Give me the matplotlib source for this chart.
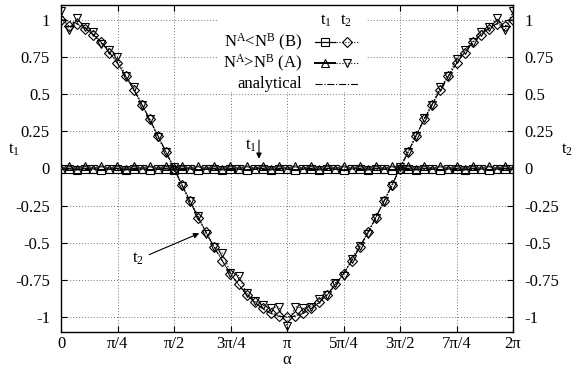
import matplotlib
matplotlib.use("Agg")
import matplotlib.pyplot as plt
from matplotlib.lines import Line2D
from matplotlib.patches import Rectangle
import numpy as np

plt.rcParams['font.family'] = ['Liberation Serif', 'DejaVu Serif']
plt.rcParams['mathtext.fontset'] = 'custom'
plt.rcParams['mathtext.rm'] = 'Liberation Serif'
plt.rcParams['mathtext.it'] = 'Liberation Serif:italic'

# ---- data ----
alpha = [0.000, 0.112, 0.224, 0.337, 0.449, 0.561, 0.673, 0.785, 0.898, 1.010,
         1.122, 1.234, 1.346, 1.459, 1.571, 1.683, 1.795, 1.907, 2.020, 2.132,
         2.244, 2.356, 2.468, 2.581, 2.693, 2.805, 2.917, 3.029, 3.142, 3.254,
         3.366, 3.478, 3.590, 3.703, 3.815, 3.927, 4.039, 4.151, 4.264, 4.376,
         4.488, 4.600, 4.712, 4.825, 4.937, 5.049, 5.161, 5.273, 5.386, 5.498,
         5.610, 5.722, 5.834, 5.947, 6.059, 6.171, 6.283]

t2_B = [1.00, 0.96, 0.97, 0.94, 0.90, 0.85, 0.78, 0.71, 0.62, 0.53,
        0.43, 0.33, 0.22, 0.11, 0.00, -0.11, -0.22, -0.33, -0.43, -0.53,
        -0.62, -0.71, -0.78, -0.85, -0.90, -0.94, -0.97, -0.99, -1.00, -0.99,
        -0.97, -0.94, -0.90, -0.85, -0.78, -0.71, -0.62, -0.53, -0.43, -0.33,
        -0.22, -0.11, 0.00, 0.11, 0.22, 0.33, 0.43, 0.53, 0.62, 0.71,
        0.78, 0.85, 0.90, 0.94, 0.97, 0.96, 1.00]

t2_A = [1.06, 0.93, 1.01, 0.95, 0.92, 0.84, 0.80, 0.75, 0.62, 0.55,
        0.43, 0.33, 0.21, 0.11, 0.01, -0.12, -0.22, -0.32, -0.44, -0.53,
        -0.57, -0.70, -0.72, -0.84, -0.89, -0.92, -0.94, -0.93, -1.06, -0.93,
        -0.94, -0.93, -0.88, -0.85, -0.77, -0.72, -0.61, -0.52, -0.44, -0.33,
        -0.22, -0.12, 0.01, 0.11, 0.22, 0.34, 0.43, 0.55, 0.62, 0.74,
        0.80, 0.85, 0.92, 0.95, 1.01, 0.93, 1.06]

t1_B = [0.00, 0.00, -0.01, 0.00, 0.00, -0.01, 0.00, 0.00, -0.01, 0.00,
        0.00, -0.01, 0.00, 0.00, -0.01, 0.00, 0.00, -0.01, 0.00, 0.00,
        -0.01, 0.00, 0.00, -0.01, 0.00, 0.00, -0.01, 0.00, 0.00, -0.01,
        0.00, 0.00, -0.01, 0.00, 0.00, -0.01, 0.00, 0.00, -0.01, 0.00,
        0.00, -0.01, 0.00, 0.00, -0.01, 0.00, 0.00, -0.01, 0.00, 0.00,
        -0.01, 0.00, 0.00, -0.01, 0.00, 0.00, 0.00]

t1_A = [0.00, 0.015, 0.00, 0.015, 0.00, 0.015, 0.00, 0.015, 0.00, 0.015,
        0.00, 0.015, 0.00, 0.015, 0.00, 0.015, 0.00, 0.015, 0.00, 0.015,
        0.00, 0.015, 0.00, 0.015, 0.00, 0.015, 0.00, 0.015, 0.00, 0.015,
        0.00, 0.015, 0.00, 0.015, 0.00, 0.015, 0.00, 0.015, 0.00, 0.015,
        0.00, 0.015, 0.00, 0.015, 0.00, 0.015, 0.00, 0.015, 0.00, 0.015,
        0.00, 0.015, 0.00, 0.015, 0.00, 0.015, 0.00]

analytic_t1 = [0.0, 0.0]
analytic_t1_x = [0.000, 6.283]
analytic_t2 = [1.000, 0.994, 0.975, 0.944, 0.901, 0.847, 0.782, 0.707, 0.623, 0.532,
               0.434, 0.330, 0.223, 0.112, 0.000, -0.112, -0.223, -0.330, -0.434, -0.532,
               -0.623, -0.707, -0.782, -0.847, -0.901, -0.944, -0.975, -0.994, -1.000, -0.994,
               -0.975, -0.944, -0.901, -0.847, -0.782, -0.707, -0.623, -0.532, -0.434, -0.330,
               -0.223, -0.112, 0.000, 0.112, 0.223, 0.330, 0.434, 0.532, 0.623, 0.707,
               0.782, 0.847, 0.901, 0.944, 0.975, 0.994, 1.000]

xticks = [0, np.pi/4, np.pi/2, 3*np.pi/4, np.pi, 5*np.pi/4, 3*np.pi/2, 7*np.pi/4, 2*np.pi]
xticklabels = ['0', 'π/4', 'π/2', '3π/4', 'π', '5π/4', '3π/2', '7π/4', '2π']
yticks = [1, 0.75, 0.5, 0.25, 0, -0.25, -0.5, -0.75, -1]
yticklabels = ['1', '0.75', '0.5', '0.25', '0', '-0.25', '-0.5', '-0.75', '-1']

W, H = 580, 374
FS = 12
fig = plt.figure(figsize=(W/100, H/100), dpi=100)
ax = fig.add_axes([61/W, 1-332/H, (513-61)/W, (332-5)/H])
ax.set_axisbelow(True)

ms = 6.0
mew = 0.8
ax.plot(analytic_t1_x, analytic_t1, color='black', lw=0.8, ls='-.', zorder=2)
ax.plot(alpha, analytic_t2, color='black', lw=0.8, ls='-.', zorder=2)
ax.plot(alpha, t1_B, color='black', lw=0.9, ls='-', marker='s', ms=ms*0.9, mfc='none', mec='black', mew=mew, zorder=3)
ax.plot(alpha, t1_A, color='#444444', lw=1.4, ls='-', marker='^', ms=ms, mfc='none', mec='black', mew=mew, zorder=3)
ax.plot(alpha, t2_B, color='black', lw=0.8, ls=':', marker='D', ms=ms*0.8, mfc='none', mec='black', mew=mew, zorder=3)
ax.plot(alpha, t2_A, color='black', lw=0.8, ls=':', marker='v', ms=ms, mfc='none', mec='black', mew=mew, zorder=3)

ax.set_xlim(0, 2*np.pi)
ax.set_ylim(-1.1, 1.1)
ax.set_xticks(xticks)
ax.set_xticklabels(xticklabels)
ax.set_yticks(yticks)
ax.set_yticklabels(yticklabels)
ax.tick_params(axis='both', direction='in', top=True, right=True, labelright=True,
               length=4, width=0.8, labelsize=FS)
ax.tick_params(axis='y', pad=8)
ax.tick_params(axis='x', pad=3)
ax.grid(True, color='#777777', ls=(0, (1, 2)), lw=0.7)
for s in ax.spines.values():
    s.set_linewidth(1.0)

ax.set_xlabel('α', fontsize=FS, labelpad=0)
fig.text(14/W, 1-150/H, 't$_1$', fontsize=FS, ha='center', va='center')
fig.text(567/W, 1-150/H, 't$_2$', fontsize=FS, ha='center', va='center')

# annotations
ax.annotate('', xy=(2.752, 0.047), xytext=(2.752, 0.21),
            arrowprops=dict(arrowstyle='-|>', color='black', lw=0.8, mutation_scale=8), zorder=4)
ax.text(2.73, 0.15, 't$_1$', fontsize=FS, ha='right', va='center', zorder=4)
ax.annotate('', xy=(1.956, -0.429), xytext=(1.19, -0.587),
            arrowprops=dict(arrowstyle='-|>', color='black', lw=0.8, mutation_scale=8), zorder=4)
ax.text(1.15, -0.61, 't$_2$', fontsize=FS, ha='right', va='center', zorder=4)

# legend box (gnuplot style)
tf = fig.transFigure
def fx(px): return px / W
def fy(py): return 1 - py / H
ax.add_patch(Rectangle((fx(218), fy(92)), fx(366) - fx(218), fy(6) - fy(92),
                       transform=tf, facecolor='white', edgecolor='none', zorder=1))
ax.text(fx(326), fy(21), 't$_1$', transform=tf, fontsize=FS, ha='center', va='center', zorder=5)
ax.text(fx(346), fy(21), 't$_2$', transform=tf, fontsize=FS, ha='center', va='center', zorder=5)
rows = [(42, r'N$^{\rm A}$<N$^{\rm B}$ (B)', 's', 'D', 0.9),
        (63, r'N$^{\rm A}$>N$^{\rm B}$ (A)', '^', 'v', 1.4)]
for py, lab, m1, m2, lw1 in rows:
    ax.text(fx(302), fy(py), lab, transform=tf, fontsize=FS, ha='right', va='center', zorder=5)
    ax.add_line(Line2D([fx(315), fx(335)], [fy(py), fy(py)], transform=tf, color='black', lw=lw1, zorder=5))
    ax.add_line(Line2D([fx(336), fx(358)], [fy(py), fy(py)], transform=tf, color='black', lw=0.8, ls=':', zorder=5))
    ax.add_line(Line2D([fx(325)], [fy(py)], transform=tf, marker=m1, ms=ms*0.9, mfc='none', mec='black', mew=mew, ls='none', zorder=6))
    ax.add_line(Line2D([fx(347)], [fy(py)], transform=tf, marker=m2, ms=ms*(0.8 if m2 == 'D' else 1), mfc='none', mec='black', mew=mew, ls='none', zorder=6))
ax.text(fx(302), fy(84), 'analytical', transform=tf, fontsize=FS, ha='right', va='center', zorder=5)
ax.add_line(Line2D([fx(315), fx(358)], [fy(84), fy(84)], transform=tf, color='black', lw=0.8, ls='-.', zorder=5))

fig.savefig('out.png', dpi=100)
